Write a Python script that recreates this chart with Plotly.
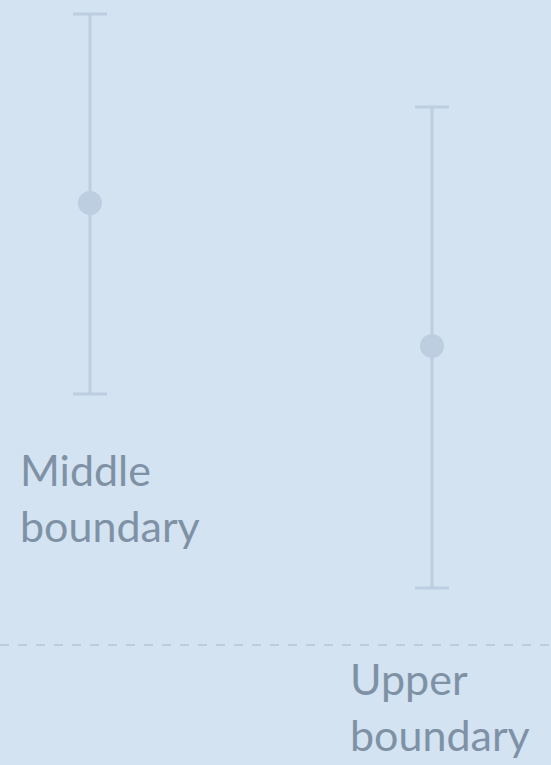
import plotly.graph_objects as go

# boundary positions (x index) and estimate with uncertainty
labels = ["Middle<br>boundary", "Upper<br>boundary"]
x_pos = [0, 1]
estimate = [4.42, 2.99]
err_plus = [1.89, 2.39]
err_minus = [1.91, 2.42]
reference_level = 0

bg = "#d3e3f2"
mark = "#bccee0"
txt = "#7f92a5"

fig = go.Figure()

fig.add_trace(go.Scatter(
    x=x_pos,
    y=estimate,
    mode="markers",
    marker=dict(size=24, color=mark),
    error_y=dict(type="data", symmetric=False, array=err_plus, arrayminus=err_minus,
                 color=mark, thickness=3, width=17),
    showlegend=False,
    hoverinfo="skip",
))

fig.add_hline(y=reference_level, line=dict(color="#bccde0", width=2, dash="dash"))

fig.add_annotation(x=18 / 551, y=1 - 442 / 765, xref="paper", yref="paper",
                   text=labels[0], showarrow=False, xanchor="left", yanchor="top",
                   align="left", font=dict(family="Lato", size=43, color=txt))
fig.add_annotation(x=348 / 551, y=1 - 651 / 765, xref="paper", yref="paper",
                   text=labels[1], showarrow=False, xanchor="left", yanchor="top",
                   align="left", font=dict(family="Lato", size=43, color=txt))

fig.update_xaxes(range=[-90 / 342, 461 / 342], visible=False, fixedrange=True)
fig.update_yaxes(range=[-1.20, 6.45], visible=False, fixedrange=True)

fig.update_layout(
    width=551,
    height=765,
    margin=dict(l=0, r=0, t=0, b=0),
    paper_bgcolor=bg,
    plot_bgcolor=bg,
)

# drop the default page margin so the figure fills the window
fig.write_html("out.html", config={"displayModeBar": False},
               post_script="document.body.style.margin='0';")
